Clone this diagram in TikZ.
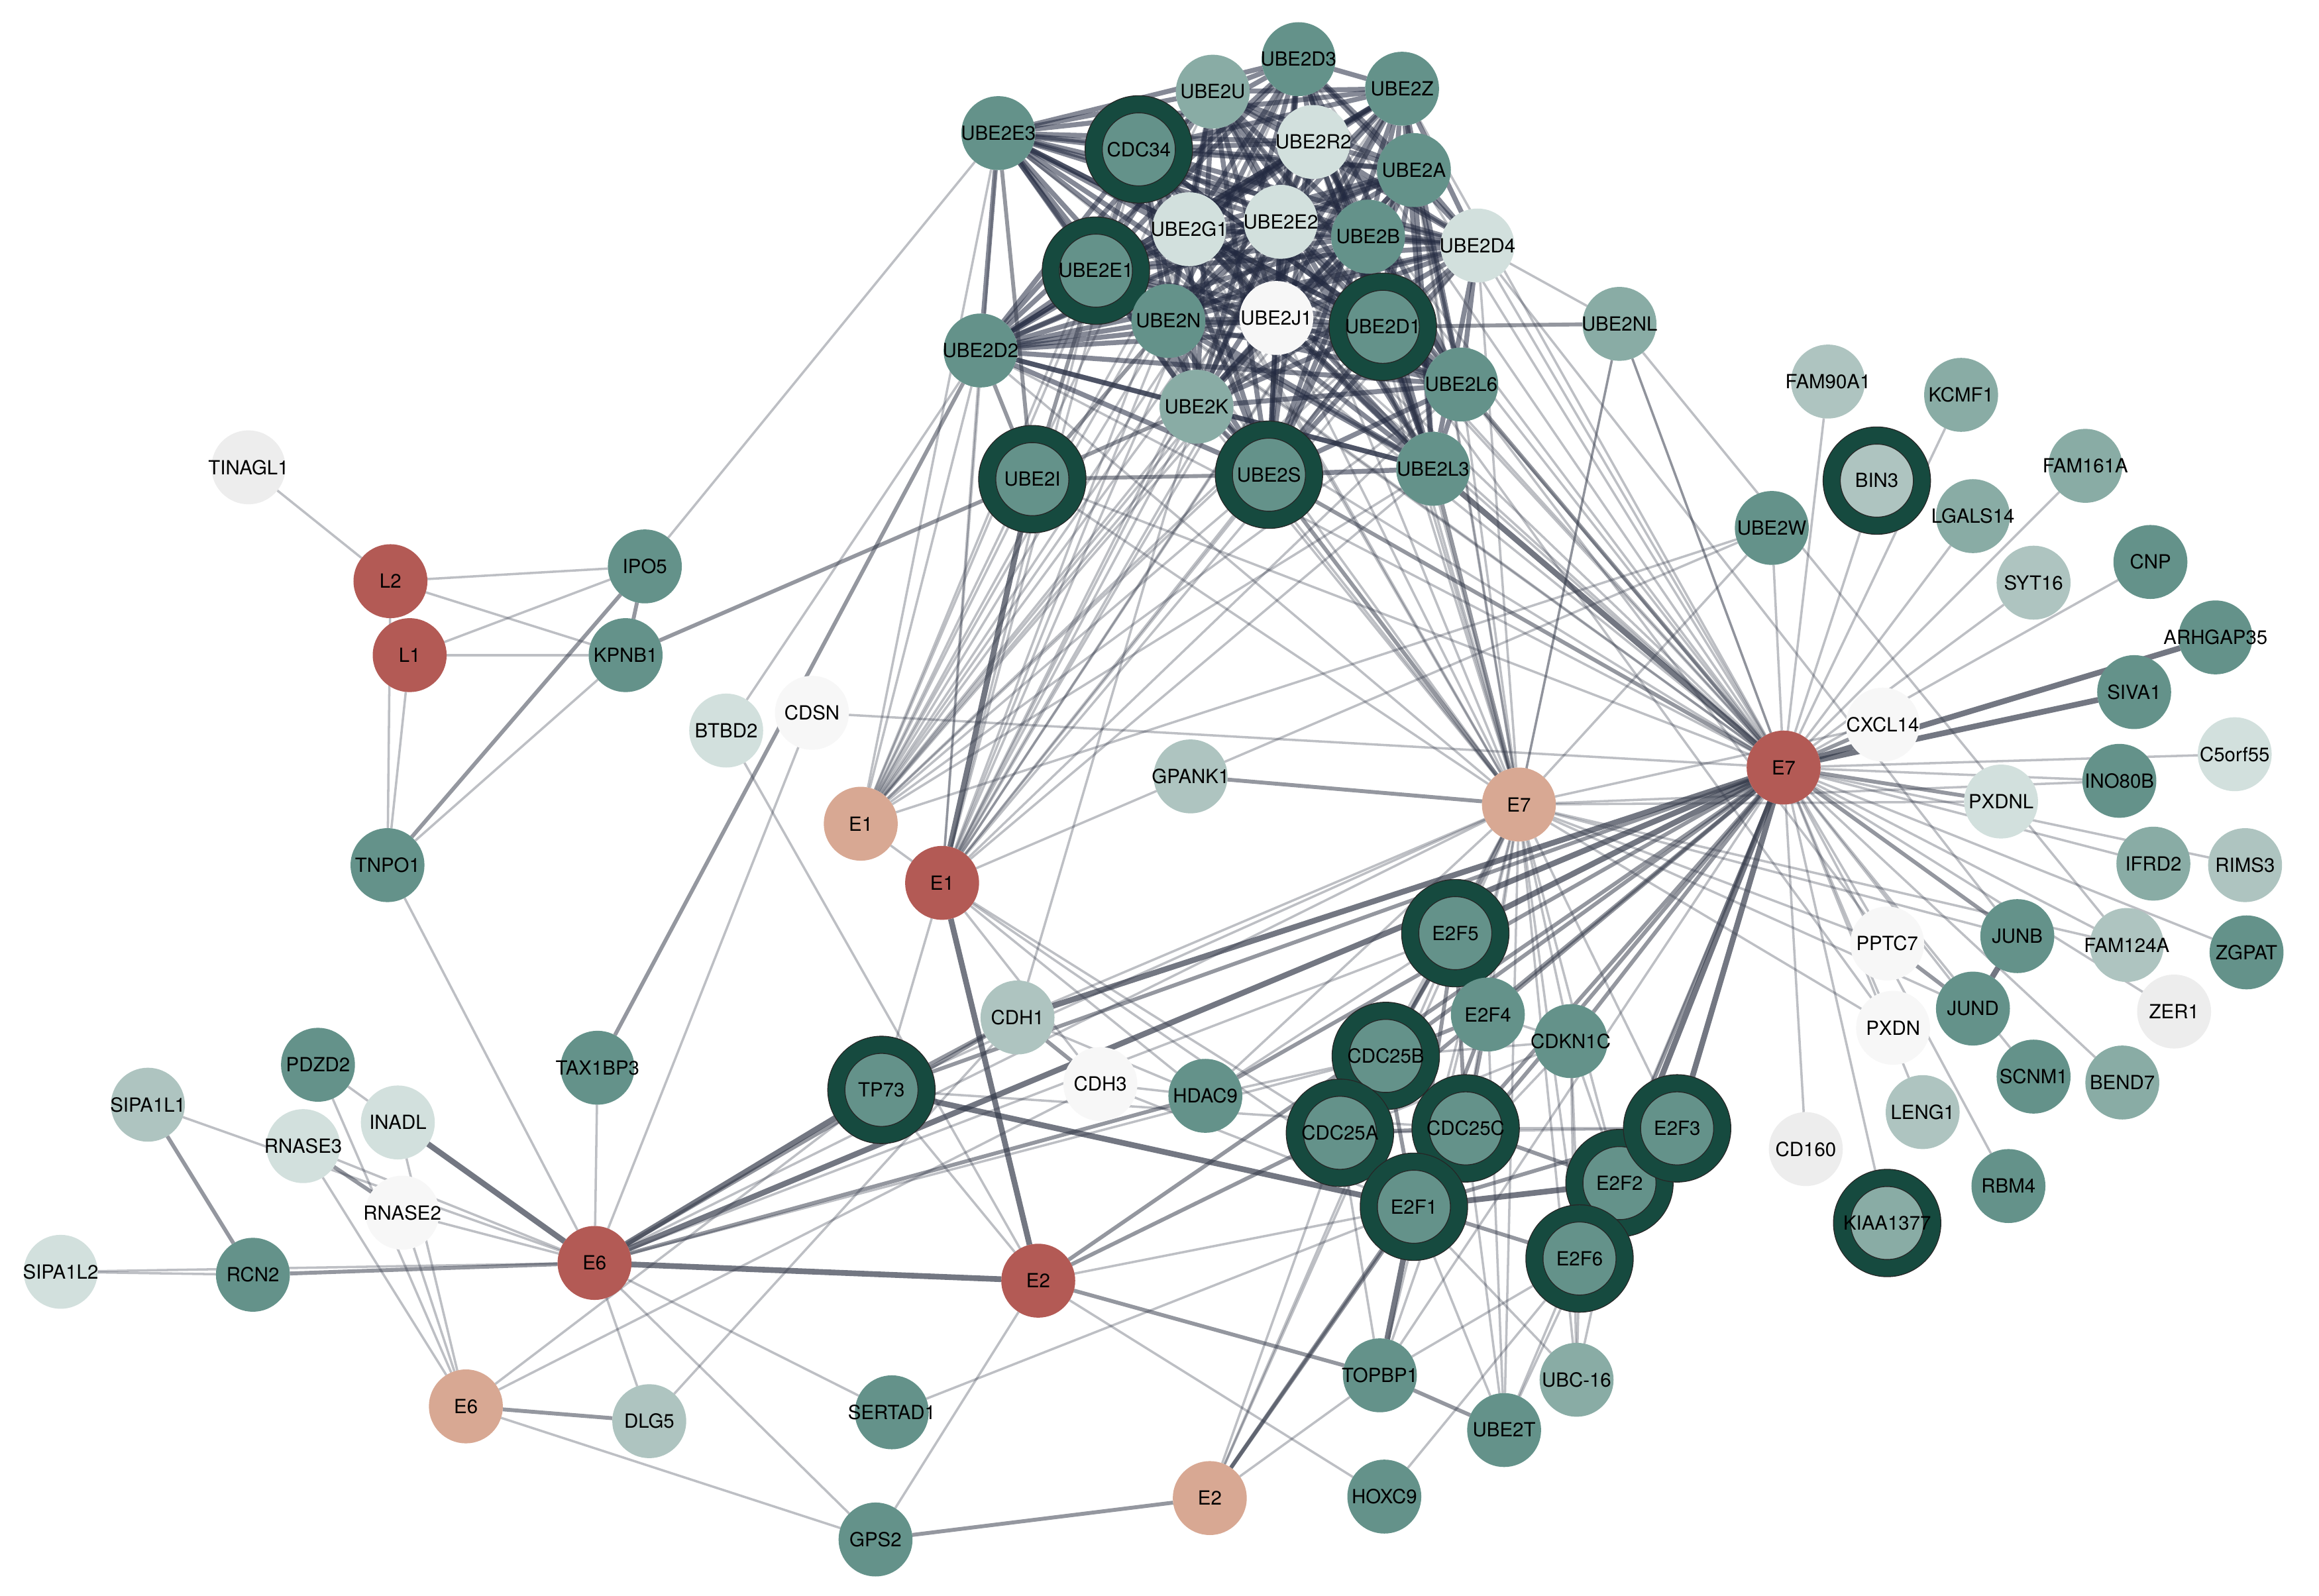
\documentclass[tikz,border=0pt]{standalone}
\usepackage{fontspec}
\setmainfont{TeX Gyre Heros}
\usetikzlibrary{backgrounds}
\definecolor{cA}{HTML}{64928A}
\definecolor{cB}{HTML}{89ACA5}
\definecolor{cC}{HTML}{AEC4C0}
\definecolor{cD}{HTML}{D2E0DD}
\definecolor{cW}{HTML}{F7F7F7}
\definecolor{cG}{HTML}{EDEDED}
\definecolor{cR}{HTML}{B35A55}
\definecolor{cS}{HTML}{D8A893}
\definecolor{ringc}{HTML}{164A3F}
\definecolor{edgec}{HTML}{323848}
\definecolor{edgecl}{HTML}{222940}
\newcommand\nd[5]{\node[#4] (#1) at (#2,#3) {\makebox[0pt]{#5}};}
\begin{document}
\begin{tikzpicture}[x=0.2mm,y=-0.2mm,
  nb/.style={circle,minimum size=10mm,inner sep=0pt,outer sep=0pt,font=\fontsize{7.5}{8}\selectfont},
  A/.style={nb,fill=cA}, B/.style={nb,fill=cB}, C/.style={nb,fill=cC},
  D/.style={nb,fill=cD}, W/.style={nb,fill=cW}, G/.style={nb,fill=cG},
  R/.style={nb,fill=cR}, S/.style={nb,fill=cS},
  ring/.style={minimum size=12.2mm,draw=black!85,line width=0.12mm,double=ringc,double distance=2.2mm},
  et/.style={draw=edgec,line width=0.9pt,draw opacity=0.32},
  em/.style={draw=edgec,line width=1.5pt,draw opacity=0.52},
  ek/.style={draw=edgec,line width=2.2pt,draw opacity=0.68},
  ecl/.style={draw=edgecl,line width=1.9pt,draw opacity=0.55}]
\path[use as bounding box] (0,0) rectangle (1568,1079);
% ---- cluster
\nd{UBE2D3}{878}{40}{A}{UBE2D3}
\nd{UBE2U}{820}{62}{B}{UBE2U}
\nd{UBE2Z}{948}{60}{A}{UBE2Z}
\nd{UBE2E3}{675}{90}{A}{UBE2E3}
\nd{CDC34}{770}{101}{A,ring}{CDC34}
\nd{UBE2R2}{888}{96}{D}{UBE2R2}
\nd{UBE2A}{956}{115}{A}{UBE2A}
\nd{UBE2G1}{804}{155}{D}{UBE2G1}
\nd{UBE2E2}{866}{150}{D}{UBE2E2}
\nd{UBE2B}{925}{160}{A}{UBE2B}
\nd{UBE2D4}{999}{166}{D}{UBE2D4}
\nd{UBE2E1}{741}{183}{A,ring}{UBE2E1}
\nd{UBE2D1}{935}{221}{A,ring}{UBE2D1}
\nd{UBE2S}{858}{321}{A,ring}{UBE2S}
\nd{UBE2I}{698}{324}{A,ring}{UBE2I}
\nd{UBE2N}{790}{217}{A}{UBE2N}
\nd{UBE2J1}{863}{215}{W}{UBE2J1}
\nd{UBE2NL}{1095}{219}{B}{UBE2NL}
\nd{UBE2D2}{663}{237}{A}{UBE2D2}
\nd{UBE2L6}{988}{260}{A}{UBE2L6}
\nd{UBE2K}{809}{275}{B}{UBE2K}
\nd{UBE2L3}{969}{317}{A}{UBE2L3}
\nd{UBE2W}{1198}{357}{A}{UBE2W}
% ---- right
\nd{FAM90A1}{1236}{258}{C}{FAM90A1}
\nd{KCMF1}{1326}{267}{B}{KCMF1}
\nd{BIN3}{1269}{325}{C,ring}{BIN3}
\nd{LGALS14}{1334}{349}{B}{LGALS14}
\nd{FAM161A}{1410}{315}{B}{FAM161A}
\nd{SYT16}{1375}{394}{C}{SYT16}
\nd{CNP}{1454}{380}{A}{CNP}
\nd{ARHGAP35}{1498}{431}{A}{ARHGAP35}
\nd{SIVA1}{1443}{468}{A}{SIVA1}
\nd{C5orf55}{1511}{510}{D}{C5orf55}
\nd{CXCL14}{1273}{490}{W}{CXCL14}
\nd{E7r}{1206}{519}{R}{E7}
\nd{INO80B}{1433}{528}{A}{INO80B}
\nd{PXDNL}{1353}{542}{D}{PXDNL}
\nd{IFRD2}{1456}{584}{B}{IFRD2}
\nd{RIMS3}{1518}{585}{C}{RIMS3}
\nd{PPTC7}{1276}{638}{W}{PPTC7}
\nd{JUNB}{1364}{633}{A}{JUNB}
\nd{FAM124A}{1438}{639}{C}{FAM124A}
\nd{ZGPAT}{1519}{644}{A}{ZGPAT}
\nd{ZER1}{1470}{684}{G}{ZER1}
\nd{JUND}{1334}{682}{A}{JUND}
\nd{PXDN}{1280}{695}{W}{PXDN}
\nd{SCNM1}{1375}{728}{A}{SCNM1}
\nd{BEND7}{1435}{732}{B}{BEND7}
\nd{LENG1}{1300}{752}{C}{LENG1}
\nd{CD160}{1221}{777}{G}{CD160}
\nd{RBM4}{1358}{802}{A}{RBM4}
\nd{KIAA1377}{1276}{827}{B,ring}{KIAA1377}
% ---- middle
\nd{E7s}{1027}{544}{S}{E7}
\nd{GPANK1}{805}{525}{C}{GPANK1}
\nd{E1s}{582}{557}{S}{E1}
\nd{E1r}{637}{597}{R}{E1}
\nd{CDSN}{549}{482}{W}{CDSN}
\nd{BTBD2}{491}{494}{D}{BTBD2}
\nd{E2F5}{984}{631}{A,ring}{E2F5}
\nd{E2F4}{1006}{686}{A}{E2F4}
\nd{CDKN1C}{1062}{704}{A}{CDKN1C}
\nd{CDC25B}{937}{714}{A,ring}{CDC25B}
\nd{CDC25A}{906}{766}{A,ring}{CDC25A}
\nd{CDC25C}{991}{763}{A,ring}{CDC25C}
\nd{E2F1}{956}{816}{A,ring}{E2F1}
\nd{E2F2}{1095}{800}{A,ring}{E2F2}
\nd{E2F3}{1134}{763}{A,ring}{E2F3}
\nd{E2F6}{1068}{851}{A,ring}{E2F6}
\nd{TOPBP1}{933}{930}{A}{TOPBP1}
\nd{UBC16}{1066}{933}{B}{UBC-16}
\nd{UBE2T}{1017}{967}{A}{UBE2T}
\nd{HOXC9}{936}{1012}{A}{HOXC9}
\nd{E2s}{818}{1013}{S}{E2}
\nd{E2r}{702}{866}{R}{E2}
\nd{SERTAD1}{603}{955}{A}{SERTAD1}
\nd{GPS2}{592}{1041}{A}{GPS2}
\nd{CDH1}{688}{688}{C}{CDH1}
\nd{TP73}{596}{737}{A,ring}{TP73}
\nd{CDH3}{744}{733}{W}{CDH3}
\nd{HDAC9}{815}{741}{A}{HDAC9}
% ---- left
\nd{TINAGL1}{168}{316}{G}{TINAGL1}
\nd{L2}{264}{393}{R}{L2}
\nd{L1}{277}{443}{R}{L1}
\nd{IPO5}{436}{383}{A}{IPO5}
\nd{KPNB1}{423}{443}{A}{KPNB1}
\nd{TNPO1}{262}{585}{A}{TNPO1}
\nd{PDZD2}{215}{720}{A}{PDZD2}
\nd{SIPA1L1}{100}{747}{C}{SIPA1L1}
\nd{INADL}{269}{759}{D}{INADL}
\nd{RNASE3}{205}{775}{D}{RNASE3}
\nd{TAX1BP3}{404}{722}{A}{TAX1BP3}
\nd{RNASE2}{272}{820}{W}{RNASE2}
\nd{SIPA1L2}{41}{860}{D}{SIPA1L2}
\nd{RCN2}{171}{862}{A}{RCN2}
\nd{E6r}{402}{854}{R}{E6}
\nd{E6s}{315}{951}{S}{E6}
\nd{DLG5}{439}{961}{C}{DLG5}
\begin{scope}[on background layer]
\fill[white] (0,0) rectangle (1568,1079);
% dense cluster
\def\clist{UBE2D3,UBE2U,UBE2Z,UBE2E3,CDC34,UBE2R2,UBE2A,UBE2G1,UBE2E2,UBE2B,UBE2D4,UBE2E1,UBE2N,UBE2J1,UBE2D1,UBE2D2,UBE2L6,UBE2K,UBE2S,UBE2L3}
\foreach \a [count=\i] in \clist {\foreach \b [count=\j] in \clist {\ifnum\i<\j \draw[ecl] (\a) -- (\b);\fi}}
\foreach \b in {UBE2D2,UBE2E1,UBE2K,UBE2N,UBE2S,UBE2E3} \draw[em] (UBE2I) -- (\b);
\draw[em] (UBE2NL) -- (UBE2D1);
\draw[et] (UBE2NL) -- (UBE2D4);
% fans to cluster
\foreach \b in {UBE2D2,UBE2I,UBE2K,UBE2S,UBE2L3,UBE2N,UBE2E1,UBE2J1,UBE2D1,UBE2L6,UBE2B,UBE2E2,UBE2G1,UBE2E3,CDC34,UBE2D3,UBE2D4,UBE2A,UBE2Z,UBE2R2,UBE2U,UBE2W} \draw[et] (E1s) -- (\b);
\foreach \b in {UBE2D2,UBE2K,UBE2S,UBE2L3,UBE2N,UBE2E1,UBE2J1,UBE2D1,UBE2L6,UBE2B,UBE2E2,UBE2G1,UBE2A,UBE2Z,CDC34,UBE2R2,UBE2D4,UBE2D3,UBE2E3} \draw[et] (E1r) -- (\b);
\draw[ek] (E1r) -- (UBE2I);
\foreach \b in {UBE2L6,UBE2D1,UBE2K,UBE2N,UBE2J1,UBE2B,UBE2D4,UBE2E2,UBE2D2,UBE2I,UBE2E1,UBE2D3,UBE2NL,UBE2A,UBE2Z,UBE2G1,CDC34,UBE2R2,UBE2W} \draw[et] (E7s) -- (\b);
\draw[em] (E7s) -- (UBE2L3); \draw[em] (E7s) -- (UBE2S);
\foreach \b in {UBE2D1,UBE2D4,UBE2K,UBE2N,UBE2J1,UBE2B,UBE2A,UBE2Z,UBE2D2,UBE2E1,UBE2I,UBE2NL,UBE2E2,UBE2D3,UBE2G1,CDC34,UBE2R2,UBE2U,UBE2E3} \draw[et] (E7r) -- (\b);
\draw[ek] (E7r) -- (UBE2L3); \draw[em] (E7r) -- (UBE2L6); \draw[em] (E7r) -- (UBE2S);
\foreach \a/\b in {UBE2D4/JUNB,UBE2L6/PPTC7,UBE2D1/PXDN,UBE2NL/FAM124A} \draw[et] (\a) -- (\b);
% E7 star on the right
\foreach \b in {FAM90A1,BIN3,KCMF1,LGALS14,FAM161A,SYT16,CNP,UBE2W,C5orf55,INO80B,IFRD2,RIMS3,FAM124A,ZGPAT,ZER1,PPTC7,PXDN,JUND,BEND7,LENG1,RBM4,CD160,KIAA1377,SCNM1} \draw[et] (E7r) -- (\b);
\foreach \b in {CXCL14,PXDNL,JUNB} \draw[em] (E7r) -- (\b);
\draw[ek] (E7r) -- (ARHGAP35); \draw[ek] (E7r) -- (SIVA1);
\draw[ek] (JUND) -- (JUNB); \draw[em] (PPTC7) -- (JUND);
\foreach \b in {PPTC7,PXDN,JUNB,JUND,PXDNL,INO80B,CXCL14,FAM124A} \draw[et] (E7s) -- (\b);
% E2F block
\foreach \b in {E2F4,CDKN1C,CDC25B,CDC25A,CDC25C,E2F1,E2F6,HDAC9,TP73,E2r} \draw[em] (E7r) -- (\b);
\foreach \b in {E2F5,E2F3,E2F2,E6r,CDH1} \draw[ek] (E7r) -- (\b);
\foreach \b in {UBE2T,TOPBP1} \draw[et] (E7r) -- (\b);
\foreach \b in {E2F4,CDKN1C,CDC25B,CDC25A,CDC25C,E2F3,E2F2,E2F1,E2F6,UBE2T,UBC16,TOPBP1,HDAC9,TP73,CDH1,E6r,E2s} \draw[et] (E7s) -- (\b);
\draw[em] (E7s) -- (E2F5);
\foreach \a/\b in {E2F5/E2F4,E2F5/CDC25B,E2F5/CDC25A,E2F5/CDC25C,E2F5/E2F1,E2F4/CDC25B,E2F4/CDC25C,E2F4/E2F1,CDC25B/CDC25C,CDC25B/E2F1,CDC25A/CDC25C,CDC25C/E2F1,CDC25C/E2F2,E2F1/E2F3,E2F1/E2F6,E2F3/E2F6,E2s/E2F1,E2s/CDC25C,E2s/GPS2,E2r/TOPBP1,E2r/CDC25A,E6r/CDH1,E6r/HDAC9,CDH1/CDH3,TP73/CDH1,TOPBP1/UBE2T} \draw[em] (\a) -- (\b);
\foreach \a/\b in {CDC25B/CDC25A,CDC25A/E2F1,E2F1/E2F2,E2F2/E2F3,E2F2/E2F6,E2F1/TOPBP1,TP73/E2F1,E6r/TP73,E6r/E2r,E1r/E2r} \draw[ek] (\a) -- (\b);
\foreach \a/\b in {E2F4/CDKN1C,CDC25C/E2F3,CDC25A/E2F3,CDKN1C/E2F1,CDKN1C/E2F2,CDKN1C/CDC25A,CDKN1C/CDC25B,CDKN1C/E2F6,CDKN1C/UBC16,E2F1/UBE2T,CDC25A/TOPBP1,CDC25C/TOPBP1,TOPBP1/E2F6,TOPBP1/E2s,HOXC9/E2r,HOXC9/E2F6,UBE2T/E2F4,UBE2T/CDC25C,UBE2T/E2F2,UBC16/E2F6,UBC16/E2F2,UBC16/CDC25A,E2s/CDC25A,E2s/E2F5,E2r/E2F1,E2r/TP73,E2r/BTBD2,E2r/GPS2,SERTAD1/E2F1,SERTAD1/E6r,E1r/E1s,E1r/TP73,E1r/CDH3,E1r/HDAC9,E1r/E2F1,E1r/CDC25A,E1r/GPANK1,CDH3/HDAC9,CDH1/HDAC9,TP73/CDC25C,CDH3/E2F1,HDAC9/CDC25B,HDAC9/E2F5,UBE2K/CDH1,E6r/CDC25B,E6r/E2F5} \draw[et] (\a) -- (\b);
% left
\foreach \a/\b in {E6r/RCN2,RNASE3/RNASE2,SIPA1L1/RCN2,E6s/DLG5,IPO5/KPNB1,IPO5/TNPO1,KPNB1/UBE2I,TAX1BP3/UBE2D2,GPANK1/E7s} \draw[em] (\a) -- (\b);
\draw[ek] (E6r) -- (INADL);
\foreach \a/\b in {E6r/SIPA1L2,E6r/SIPA1L1,E6r/RNASE3,E6r/RNASE2,E6r/TAX1BP3,E6r/TNPO1,E6r/CDSN,E6r/DLG5,E6r/GPS2,E6s/GPS2,E6s/PDZD2,E6s/RNASE3,E6s/RNASE2,E6s/INADL,E6s/TP73,E6s/CDH3,SIPA1L2/RCN2,PDZD2/INADL,DLG5/CDH1,CDSN/E7r,BTBD2/UBE2D2,TINAGL1/L2,L2/IPO5,L2/KPNB1,L1/IPO5,L1/KPNB1,L1/TNPO1,L2/TNPO1,KPNB1/TNPO1,IPO5/UBE2E3,GPANK1/UBE2W,UBE2NL/E7r,UBE2NL/E7s} \draw[et] (\a) -- (\b);
\end{scope}
\end{tikzpicture}
\end{document}
